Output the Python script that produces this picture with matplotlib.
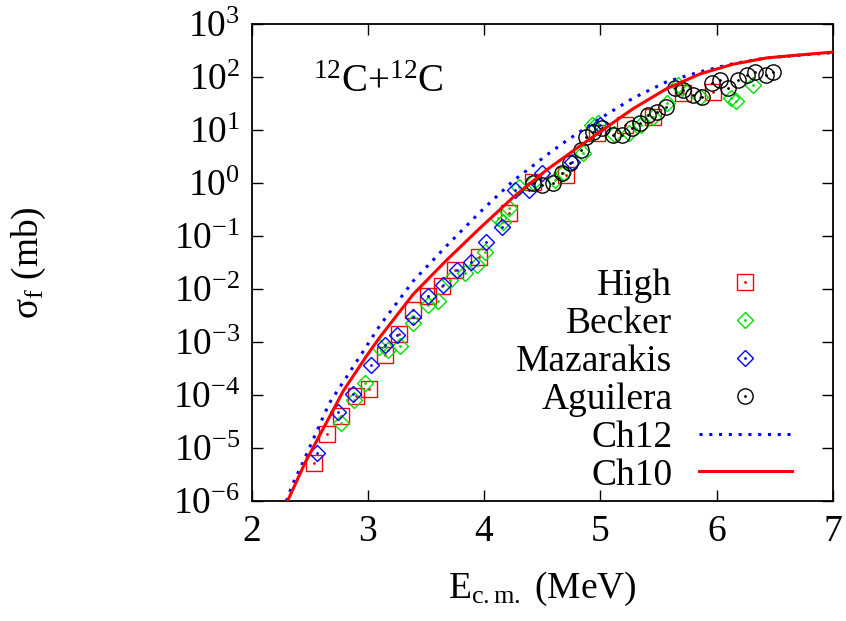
import numpy as np
import matplotlib
matplotlib.use('Agg')
import matplotlib.pyplot as plt
from matplotlib.ticker import FixedLocator, FuncFormatter
from matplotlib.legend_handler import HandlerTuple

plt.rcParams['font.family'] = ['Liberation Serif', 'DejaVu Serif']
plt.rcParams['mathtext.fontset'] = 'custom'
plt.rcParams['mathtext.rm'] = 'Liberation Serif'
plt.rcParams['mathtext.it'] = 'Liberation Serif:italic'
plt.rcParams['mathtext.bf'] = 'Liberation Serif:bold'

# fusion cross sections: E_cm in MeV, log10(sigma / mb)
high_e = [2.54, 2.65, 2.77, 2.90, 3.01, 3.15, 3.27, 3.39, 3.52, 3.64, 3.75, 3.96,
          4.21, 4.42, 4.70, 4.97, 5.21, 5.45, 5.71, 5.97]
high_logs = [-5.28, -4.74, -4.40, -4.02, -3.89, -3.25, -2.85, -2.40, -2.13, -1.94,
             -1.64, -1.40, -0.57, 0.02, 0.15, 0.94, 1.09, 1.25, 1.70, 1.72]

becker_e = [2.77, 2.88, 2.98, 3.10, 3.17, 3.28, 3.39, 3.52, 3.60, 3.71, 3.84, 3.94,
            4.01, 4.12, 4.16, 4.21, 4.30, 4.42, 4.61, 4.68, 4.85, 4.93, 4.98, 5.12,
            5.25, 5.35, 5.45, 5.57, 5.67, 5.70, 5.86, 6.12, 6.17, 6.31]
becker_logs = [-4.53, -4.09, -3.77, -3.09, -3.15, -3.08, -2.64, -2.30, -2.22, -1.83,
               -1.70, -1.55, -1.30, -0.66, -0.74, -0.47, -0.08, 0.02, 0.06, 0.19,
               0.57, 1.09, 1.13, 0.92, 0.94, 1.09, 1.25, 1.51, 1.85, 1.80, 1.62,
               1.60, 1.55, 1.85]

mazarakis_e = [2.56, 2.74, 2.87, 3.03, 3.15, 3.25, 3.39, 3.52, 3.65, 3.77, 3.89,
               4.02, 4.15, 4.27, 4.39, 4.50, 4.76, 5.00]
mazarakis_logs = [-5.10, -4.32, -3.98, -3.43, -3.06, -2.87, -2.53, -2.13, -1.92,
                  -1.64, -1.49, -1.11, -0.83, -0.13, -0.13, 0.19, 0.40, 1.09]

aguilera_e = [4.42, 4.50, 4.59, 4.67, 4.74, 4.83, 4.88, 4.94, 5.01, 5.11, 5.19,
              5.27, 5.34, 5.41, 5.49, 5.56, 5.64, 5.71, 5.80, 5.87, 5.96, 6.03,
              6.10, 6.18, 6.26, 6.33, 6.42, 6.48]
aguilera_logs = [0.00, -0.04, 0.00, 0.19, 0.38, 0.62, 0.87, 0.96, 1.04, 0.91, 0.91,
                 1.04, 1.13, 1.28, 1.34, 1.43, 1.79, 1.75, 1.66, 1.62, 1.89, 1.94,
                 1.79, 1.94, 2.04, 2.09, 2.04, 2.09]

# model curves
ch12_e = [2.30, 2.35, 2.44, 2.67, 2.85, 3.10, 3.39, 3.68, 3.96, 4.25, 4.54, 4.71,
          5.00, 5.28, 5.57, 5.86, 6.14, 6.43, 7.00]
ch12_logs = [-6.0, -5.7, -5.28, -4.15, -3.55, -2.70, -1.85, -1.18, -0.56, 0.04,
             0.53, 0.80, 1.22, 1.60, 1.91, 2.10, 2.25, 2.36, 2.46]

ch10_e = [2.31, 2.46, 2.62, 2.79, 2.99, 3.10, 3.39, 3.68, 3.96, 4.25, 4.54, 4.80,
          5.00, 5.28, 5.57, 5.86, 6.14, 6.43, 7.00]
ch10_logs = [-6.0, -5.28, -4.62, -3.92, -3.26, -2.92, -2.10, -1.45, -0.86, -0.27,
             0.25, 0.66, 0.97, 1.40, 1.78, 2.06, 2.24, 2.36, 2.47]

FS = 27

fig = plt.figure(figsize=(8.46, 6.21), dpi=100)
ax = fig.add_axes([0.2973, 0.1932, 0.6873, 0.7682])


def points(e, logs, marker, color, size):
    y = 10.0 ** np.asarray(logs)
    h1, = ax.plot(e, y, linestyle='none', marker=marker, ms=size, mfc='none',
                  mec=color, mew=1.0, zorder=3)
    h2, = ax.plot(e, y, linestyle='none', marker='.', ms=2.0, color=color, zorder=3)
    return (h1, h2)


handles = [
    points(high_e, high_logs, 's', '#ff0000', 11.5),
    points(becker_e, becker_logs, 'D', '#00e000', 8.2),
    points(mazarakis_e, mazarakis_logs, 'D', '#0000ff', 8.2),
    points(aguilera_e, aguilera_logs, 'o', '#000000', 11.0),
]
l12, = ax.plot(ch12_e, 10.0 ** np.asarray(ch12_logs), color='#0000ff', lw=2.2,
               linestyle=(0, (1, 2.2)), dash_capstyle='butt', zorder=4)
l10, = ax.plot(ch10_e, 10.0 ** np.asarray(ch10_logs), color='#ff0000', lw=2.2,
               zorder=5)
handles += [l12, l10]
labels = ['High', 'Becker', 'Mazarakis', 'Aguilera', 'Ch12', 'Ch10']

ax.set_yscale('log')
ax.set_xlim(2, 7)
ax.set_ylim(1e-6, 1e3)
ax.xaxis.set_major_locator(FixedLocator([2, 3, 4, 5, 6, 7]))
ax.yaxis.set_major_locator(FixedLocator([10.0 ** k for k in range(-6, 4)]))
ax.yaxis.set_minor_locator(FixedLocator([]))
ax.yaxis.set_major_formatter(
    FuncFormatter(lambda v, p: r'10$^{\mathrm{%d}}$' % int(round(np.log10(v)))))
ax.xaxis.set_major_formatter(FuncFormatter(lambda v, p: '%d' % v))
ax.tick_params(which='both', direction='in', top=True, right=True,
               length=8, width=1.0, labelsize=FS)
ax.tick_params(axis='x', pad=10)
ax.tick_params(axis='y', pad=8)
for s in ax.spines.values():
    s.set_linewidth(1.3)

ax.set_xlabel(r'E$_{\mathrm{c.m.}}$ (MeV)', fontsize=FS, labelpad=15)
ax.set_ylabel(r'σ$_{\mathrm{f}}$ (mb)', fontsize=FS)
ax.yaxis.set_label_coords(-0.35, 0.5)

ax.text(0.105, 0.858, r'$^{\mathrm{12}}$C+$^{\mathrm{12}}$C', transform=ax.transAxes,
        fontsize=FS + 1, ha='left', va='baseline')

ax.legend(handles, labels, handler_map={tuple: HandlerTuple(ndivide=1)},
          loc='upper right', bbox_to_anchor=(0.93, 0.487), frameon=False,
          markerfirst=False, fontsize=FS, handlelength=2.5, handletextpad=0.7,
          labelspacing=0.09, borderpad=0, borderaxespad=0)

fig.savefig('out.png', dpi=100)
